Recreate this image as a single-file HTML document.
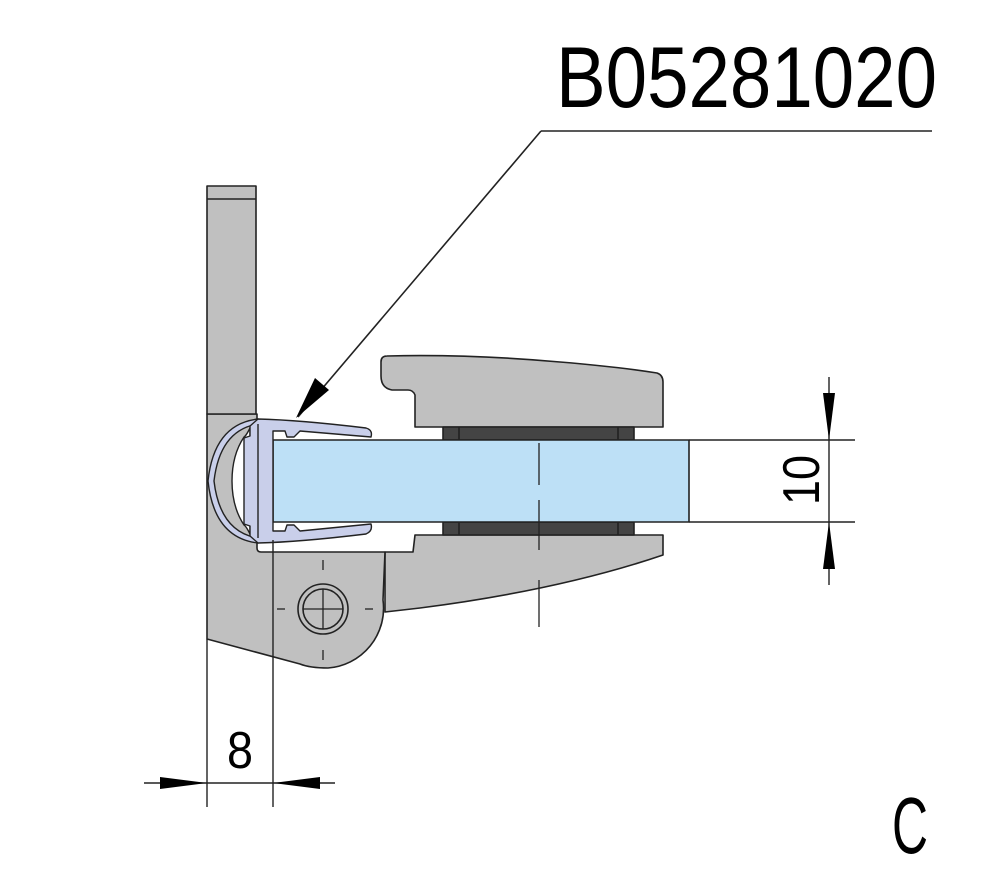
<!DOCTYPE html>
<html><head><meta charset="utf-8"><style>
html,body{margin:0;padding:0;background:#fff;}
svg{display:block;}
text{font-family:"Liberation Sans",sans-serif;fill:#000;}
</style></head><body>
<svg width="988" height="887" viewBox="0 0 988 887" xmlns="http://www.w3.org/2000/svg">
<g stroke="#222" stroke-width="1.6" stroke-linejoin="round">
<path d="M385 552 L413 552 L415 535 L663 535 L663 555 Q560 590 420 608 L385 612 Z" fill="#c0c0c0"/>
<path d="M207 414 L257 414 L257 548 Q257 552 261 552 L385 552 L383 600 A60 60 0 0 1 328 668 Q310 668 300 664 L207 639 Z" fill="#c0c0c0"/>
<rect x="207" y="186" width="49" height="228" fill="#c0c0c0"/>
<line x1="207" y1="199" x2="256" y2="199"/>
<path d="M387 356 Q470 354 560 362 Q620 367 657 373 Q663 375 663 382 L663 427 L415 427 L415 395 Q413 390 408 390 L392 390 Q381 388 381 376 L381 362 Q381 356 387 356 Z" fill="#c0c0c0"/>
<rect x="443" y="427" width="191" height="13" fill="#444"/>
<rect x="443" y="522" width="191" height="13" fill="#444"/>
<line x1="459" y1="427" x2="459" y2="440"/><line x1="618" y1="427" x2="618" y2="440"/>
<line x1="459" y1="522" x2="459" y2="535"/><line x1="618" y1="522" x2="618" y2="535"/>
<rect x="273" y="440" width="416" height="82" fill="#bde0f6"/>
<circle cx="323" cy="609" r="25" fill="#c0c0c0"/>
<circle cx="323" cy="609" r="20" fill="#c0c0c0"/>
</g>
<g stroke="#222" stroke-width="1.3">
<line x1="323" y1="589" x2="323" y2="629"/><line x1="303" y1="609" x2="343" y2="609"/>
<line x1="323" y1="560" x2="323" y2="570"/><line x1="323" y1="650" x2="323" y2="660"/>
<line x1="277" y1="609" x2="285" y2="609"/><line x1="365" y1="609" x2="373" y2="609"/>
<line x1="539" y1="443" x2="539" y2="485"/><line x1="539" y1="500" x2="539" y2="550"/><line x1="539" y1="580" x2="539" y2="627"/>
</g>
<!-- seal -->
<g stroke="#222" stroke-width="1.4" stroke-linejoin="round">
<!-- thin bulb band -->
<path d="M258 419 Q214 424 208 481 Q214 538 258 543 L258 538 Q220 532 214 481 Q220 430 258 424 Z" fill="#c9cfea"/>
<!-- inner white opening -->
<path d="M258 428 Q228 434 224 481 Q228 528 258 534 Z" fill="#c0c0c0" stroke="none"/>
<path d="M250 428 Q246 436 244 437 Q232 455 232 481 Q232 507 244 525 Q246 526 250 534 Z" fill="#fff"/>
<!-- bar + lips -->
<path d="M250 426 L258 419 Q300 420 366 428 Q373 430 371 437 L300 431 L294 437 L287 437 L285 431 L273 431 L273 531 L285 531 L287 525 L294 525 L300 531 L371 524 Q373 531 366 534 Q300 542 258 543 L250 536 L250 526 L244 524 L244 438 L250 436 Z" fill="#c9cfea"/>
<line x1="258" y1="424" x2="258" y2="538"/>
</g>
<g stroke="#222" stroke-width="1.6" fill="none">
<line x1="541" y1="131" x2="932" y2="131"/>
<line x1="541" y1="131" x2="298" y2="417"/>
</g>
<polygon points="296,418 315,378 329,390" fill="#000"/>
<g stroke="#222" stroke-width="1.4">
<line x1="689" y1="440" x2="855" y2="440"/><line x1="689" y1="522" x2="855" y2="522"/>
<line x1="829" y1="377" x2="829" y2="585"/>
<line x1="207" y1="639" x2="207" y2="807"/><line x1="273" y1="540" x2="273" y2="807"/>
<line x1="144" y1="783" x2="335" y2="783"/>
</g>
<polygon points="829,440 823,393 835,393" fill="#000"/>
<polygon points="829,522 823,569 835,569" fill="#000"/>
<polygon points="207,783 160,777 160,789" fill="#000"/>
<polygon points="273,783 320,777 320,789" fill="#000"/>
<text x="0" y="0" font-size="52" transform="translate(819,505) rotate(-90)" textLength="50" lengthAdjust="spacingAndGlyphs">10</text>
<text x="227" y="768" font-size="52" textLength="26" lengthAdjust="spacingAndGlyphs">8</text>
<text x="556" y="107" font-size="86" textLength="381" lengthAdjust="spacingAndGlyphs">B05281020</text>
<text x="892" y="853" font-size="80" textLength="36" lengthAdjust="spacingAndGlyphs">C</text>
</svg>
</body></html>
